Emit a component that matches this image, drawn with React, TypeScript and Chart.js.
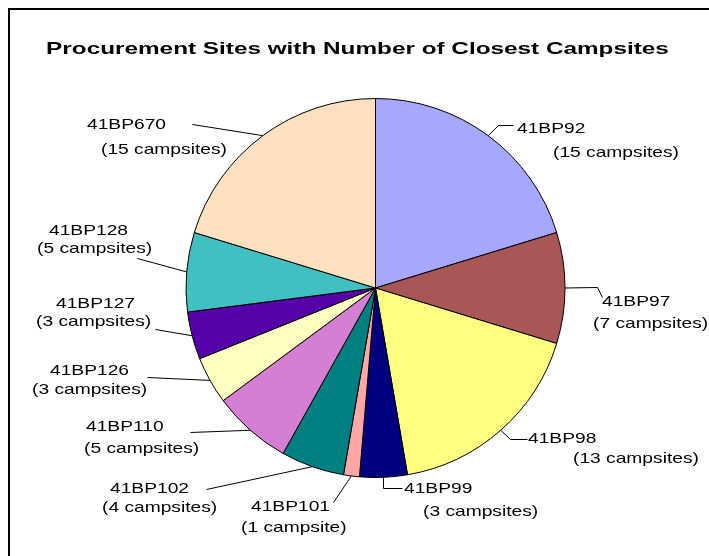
import React, { useEffect, useRef } from "react";
import { Chart, registerables } from "chart.js";

Chart.register(...registerables);

const TITLE = "Procurement Sites with Number of Closest Campsites";
const sites = ["41BP92", "41BP97", "41BP98", "41BP99", "41BP101", "41BP102", "41BP110", "41BP126", "41BP127", "41BP128", "41BP670"];
const campsites = [15, 7, 13, 3, 1, 4, 5, 3, 3, 5, 15];
const sliceColors = ["#A6A8FF", "#A85656", "#FFFF80", "#000080", "#FFA6A6", "#008080", "#D47FD4", "#FFFFC0", "#5500A8", "#40C0C0", "#FFE0C0"];

// label layout: first line pos, second line pos (left x, middle y), leader waypoints from label to slice edge
const labelLayout: { l1: [number, number]; l2: [number, number]; path: [number, number][] }[] = [
  { l1: [517, 129], l2: [553, 153], path: [[513, 125], [498, 125]] },
  { l1: [602, 302], l2: [593, 324], path: [[602, 297], [597, 287]] },
  { l1: [528, 439], l2: [573, 459], path: [[527, 439], [510, 439]] },
  { l1: [404, 489], l2: [423, 512], path: [[402, 488], [383, 488]] },
  { l1: [251, 507], l2: [241, 528], path: [[333, 502]] },
  { l1: [110, 489], l2: [102, 508], path: [[206, 489]] },
  { l1: [86, 427], l2: [84, 449], path: [[190, 432]] },
  { l1: [50, 371], l2: [32, 390], path: [[147, 377]] },
  { l1: [56, 304], l2: [36, 322], path: [[155, 329]] },
  { l1: [49, 231], l2: [37, 249], path: [[137, 258]] },
  { l1: [87, 125], l2: [101, 150], path: [[192, 124]] },
];

const FONT = "Arial, 'Liberation Sans', sans-serif";

function stretchedText(ctx: CanvasRenderingContext2D, s: string, x: number, y: number, sx: number) {
  ctx.save();
  ctx.translate(x, y);
  ctx.scale(sx, 1);
  ctx.fillText(s, 0, 0);
  ctx.restore();
}

const labelPlugin = {
  id: "excelLabels",
  afterDraw(chart: any) {
    const ctx: CanvasRenderingContext2D = chart.ctx;
    const meta = chart.getDatasetMeta(0);
    ctx.save();
    // title
    ctx.fillStyle = "#000";
    ctx.font = `bold 17px ${FONT}`;
    ctx.textAlign = "center";
    ctx.textBaseline = "alphabetic";
    stretchedText(ctx, TITLE, 357.5, 54, 1.43);

    // leaders and labels
    ctx.strokeStyle = "#000";
    ctx.lineWidth = 1;
    meta.data.forEach((arc: any, i: number) => {
      const lay = labelLayout[i];
      const mid = (arc.startAngle + arc.endAngle) / 2;
      const ex = arc.x + arc.outerRadius * Math.cos(mid);
      const ey = arc.y + arc.outerRadius * Math.sin(mid);
      ctx.beginPath();
      ctx.moveTo(lay.path[0][0] + 0.5, lay.path[0][1] + 0.5);
      for (let k = 1; k < lay.path.length; k++) ctx.lineTo(lay.path[k][0] + 0.5, lay.path[k][1] + 0.5);
      ctx.lineTo(ex, ey);
      ctx.stroke();

      const n = campsites[i];
      ctx.font = `15px ${FONT}`;
      ctx.textAlign = "left";
      ctx.textBaseline = "middle";
      stretchedText(ctx, sites[i], lay.l1[0], lay.l1[1], 1.28);
      stretchedText(ctx, `(${n} campsite${n === 1 ? "" : "s"})`, lay.l2[0], lay.l2[1], 1.28);
    });
    ctx.restore();
  },
};

export default function App() {
  const ref = useRef<HTMLCanvasElement | null>(null);
  useEffect(() => {
    if (!ref.current) return;
    const chart = new Chart(ref.current, {
      type: "pie",
      data: {
        labels: sites,
        datasets: [
          {
            data: campsites,
            backgroundColor: sliceColors,
            borderColor: "#000",
            borderWidth: 1,
            hoverOffset: 0,
          },
        ],
      },
      options: {
        animation: false,
        responsive: false,
        devicePixelRatio: 1,
        events: [],
        layout: { padding: { left: 185, right: 143, top: 98, bottom: 78 } },
        plugins: {
          legend: { display: false },
          title: { display: false },
          tooltip: { enabled: false },
        },
      },
      plugins: [labelPlugin],
    });
    return () => chart.destroy();
  }, []);
  return (
    <>
      <div
        style={{
          position: "fixed",
          left: 8,
          top: 8,
          width: 800,
          height: 700,
          border: "2px solid #000",
          background: "#fff",
        }}
      />
      <canvas
        ref={ref}
        width={709}
        height={556}
        style={{ position: "fixed", left: 0, top: 0, width: 709, height: 556 }}
      />
    </>
  );
}
